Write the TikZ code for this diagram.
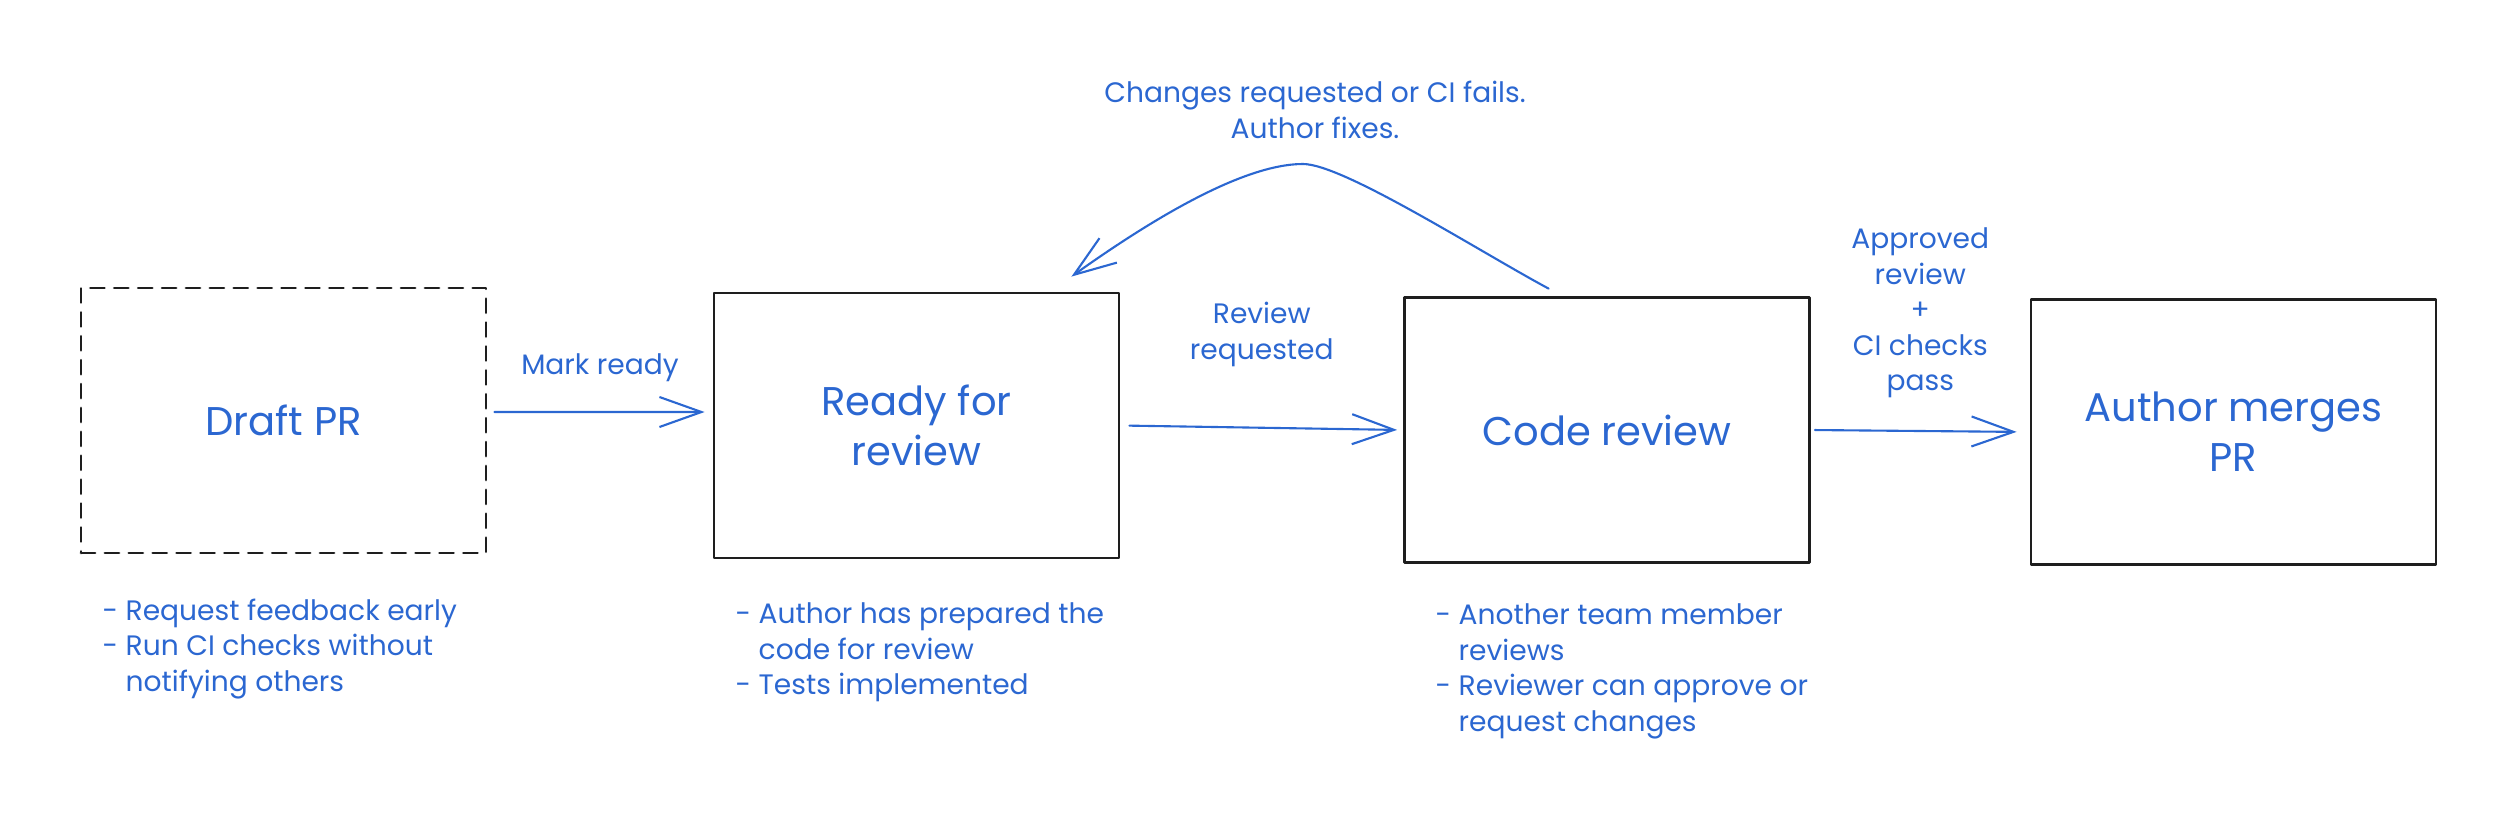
\documentclass[tikz,border=0pt]{standalone}
\usepackage{fontspec}
\setmainfont{Poppins}
\usepackage{xcolor}
\usepackage{tikz}
\usetikzlibrary{arrows.meta,positioning}
\definecolor{prInk}{HTML}{1E1E1E}
\definecolor{prBlue}{HTML}{2B67D1}
\tikzset{
  pr diagram/.style={font=\fontsize{8}{10.1}\selectfont, text=prBlue,
    line cap=round, line join=round},
  pr box/.style={draw=prInk, line width=0.8pt, minimum width=4.05cm,
    minimum height=2.65cm, align=center, font=\fontsize{11.4}{14.2}\selectfont},
  pr draft box/.style={pr box, dash pattern=on 4pt off 2.8pt},
  pr arrow/.style={-{Straight Barb[length=4.2mm,width=3mm]}, draw=prBlue, line width=0.6pt},
  pr label/.style={align=center, inner sep=0pt},
  pr note/.style={align=left, anchor=north west, inner sep=0pt}
}

\begin{document}
\begin{tikzpicture}[pr diagram]
\useasboundingbox (0,0) rectangle (25.06,8.22);
\node[pr draft box] (draft) at (2.835,4.015) {Draft PR};
\node[pr box] (ready) at (9.165,3.965) {Ready for\\review};
\node[pr box] (code) at (16.07,3.92) {Code review};
\node[pr box] (merge) at (22.335,3.90) {Author merges\\PR};
% forward steps
\draw[pr arrow, shorten <=0.7mm, shorten >=0.8mm] ([yshift=0.85mm]draft.east) -- node[pr label, above=2.9mm] (mark) {Mark ready} ([yshift=1.35mm]ready.west);
\draw[pr arrow, shorten <=0.9mm, shorten >=0.6mm] (ready.east) -- node[pr label, above=6mm] (asked) {Review\\requested} (code.west);
\draw[pr arrow, shorten <=0.4mm, shorten >=1.3mm] (code.east) -- node[pr label, above=3.2mm] (passed) {Approved\\review\\+\\CI checks\\pass} (merge.west);
% loop back to the author
\coordinate (loop top) at (13.03,6.58);
\draw[pr arrow] ([xshift=14.55mm,yshift=0.75mm]code.north west) .. controls +(-0.69,0.37) and +(0.4,0) .. (loop top)
  .. controls +(-0.6,0) and +(0.8,0.57) .. ([xshift=-4.9mm,yshift=1.5mm]ready.north east);
\node[pr label] (fixes) at (13.15,7.12) {Changes requested or CI fails.\\Author fixes.};
% notes under the boxes
\node[pr note] (draft notes) at (1.02,2.24) {- Request feedback early\\- Run CI checks without\\\phantom{- }notifying others};
\node[pr note] (ready notes) at (7.35,2.20) {- Author has prepared the\\\phantom{- }code for review\\- Tests implemented};
\node[pr note] (code notes) at (14.35,2.19) {- Another team member\\\phantom{- }reviews\\- Reviewer can approve or\\\phantom{- }request changes};
\end{tikzpicture}
\end{document}
